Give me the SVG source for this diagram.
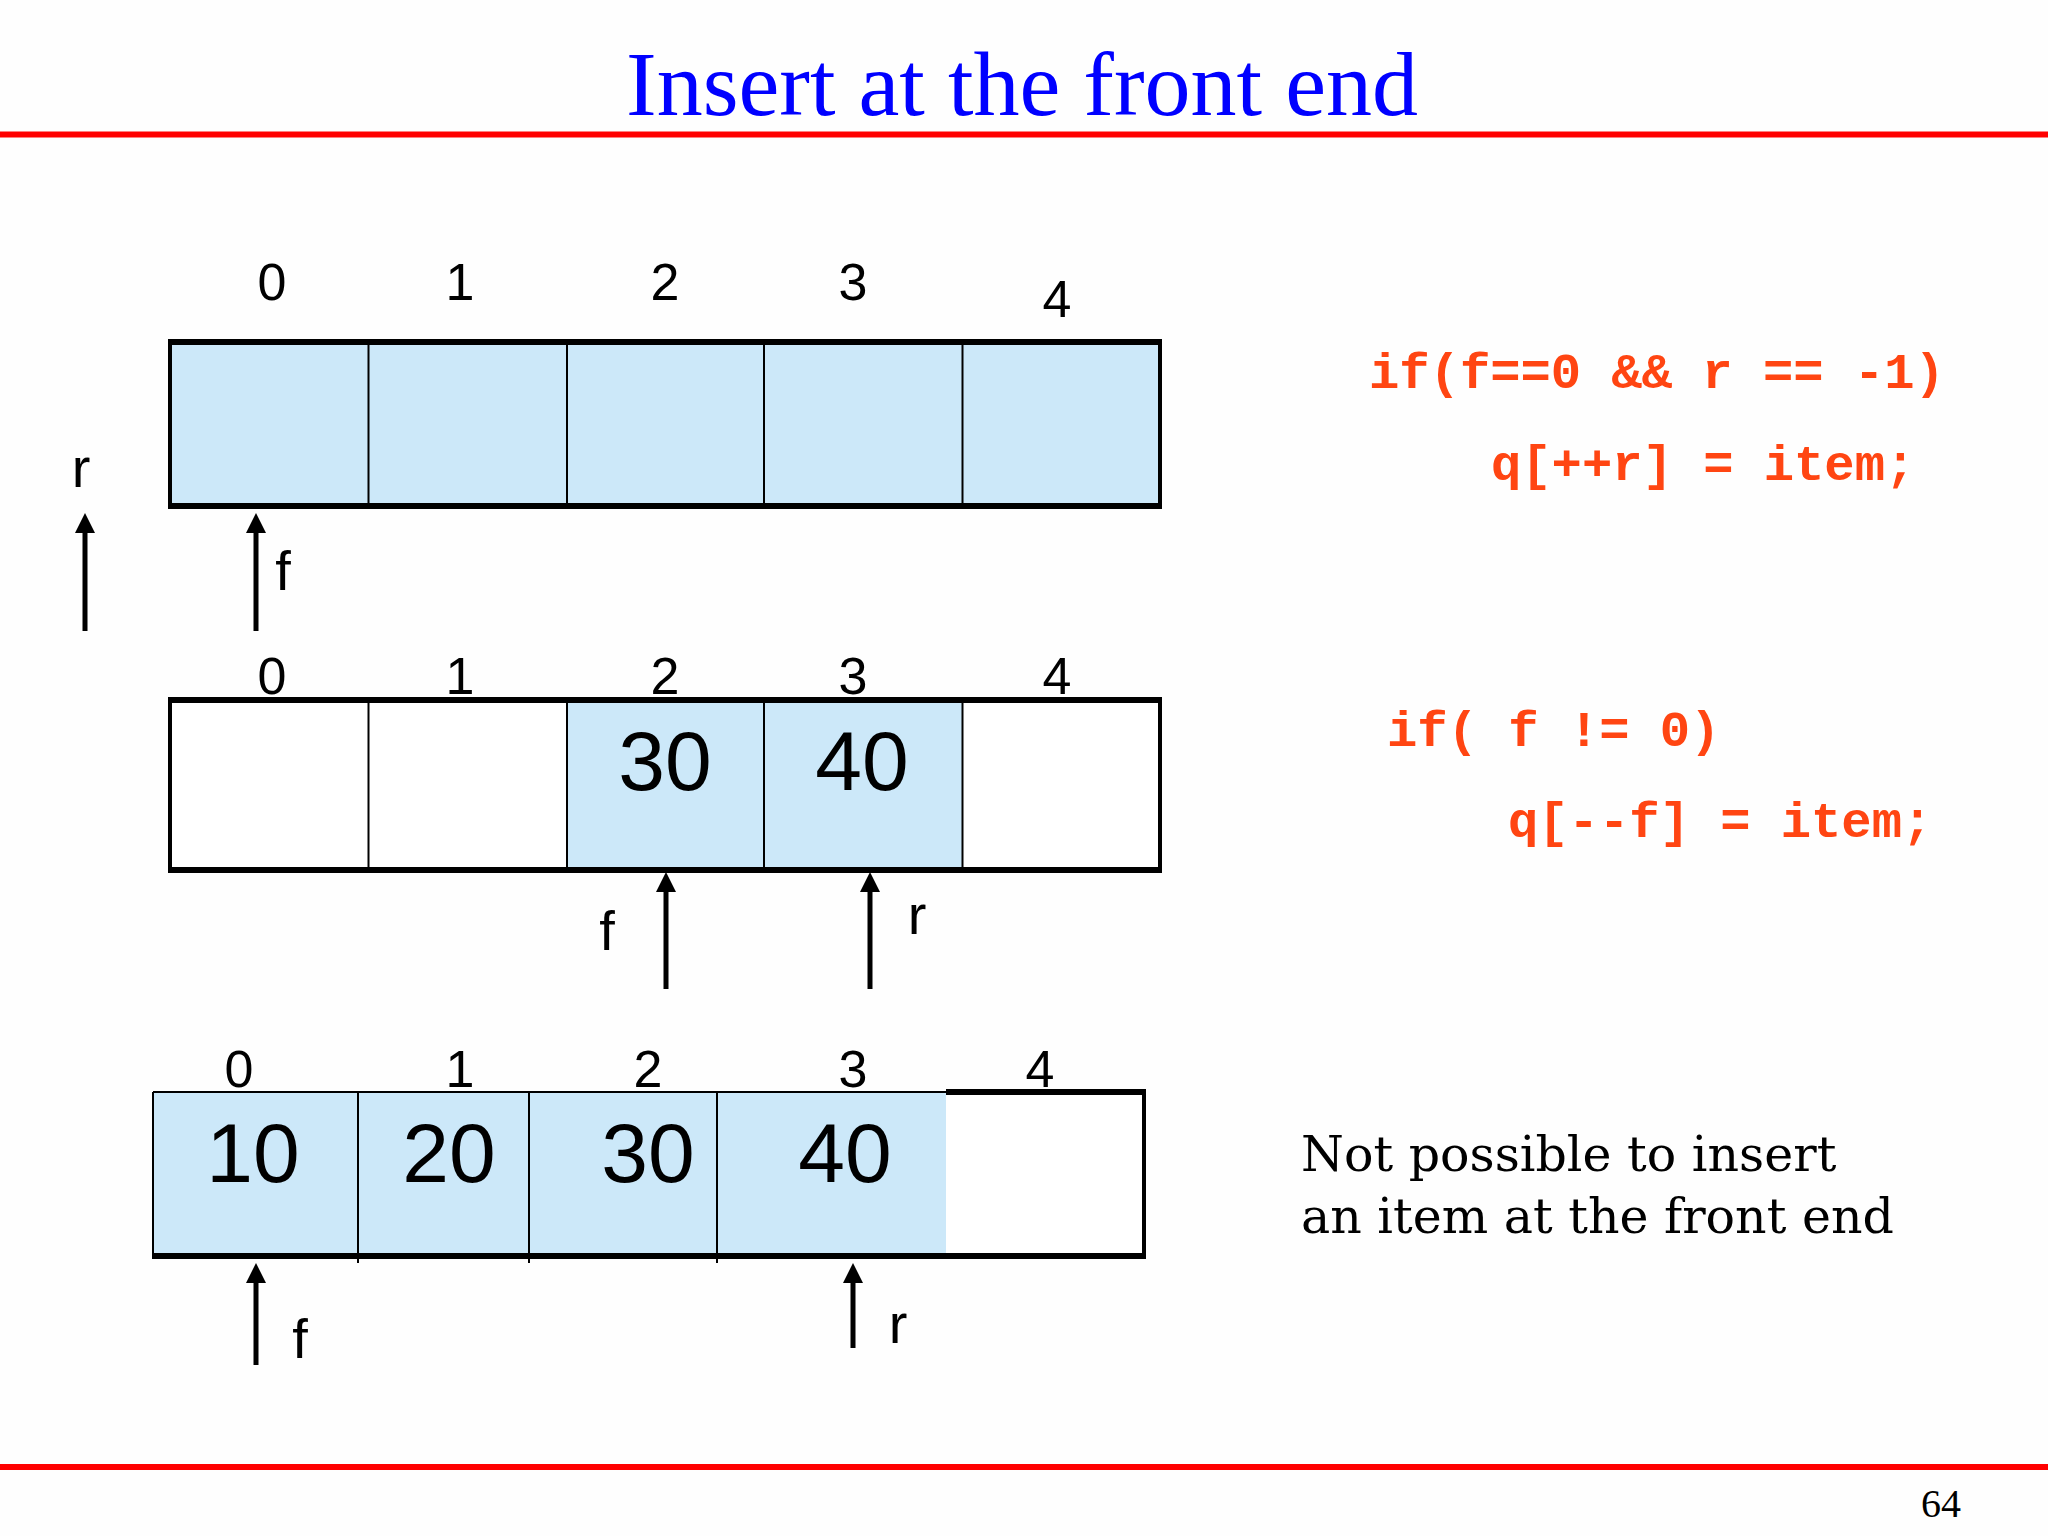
<svg xmlns="http://www.w3.org/2000/svg" width="2048" height="1536" viewBox="0 0 2048 1536">
<defs>
<marker id="ah" markerUnits="userSpaceOnUse" markerWidth="20" markerHeight="20" viewBox="0 0 20 20" refX="2" refY="10" orient="auto">
<path d="M0,0 L20,10 L0,20 z" fill="#000"/>
</marker>
<style>
.bg{fill:#fefefe}
.redline{stroke:#ff0000;stroke-width:6}
.title{font-family:"Liberation Serif","Times New Roman",serif;font-size:92px;fill:#0000ff;text-anchor:middle}
.pg{font-family:"Liberation Serif","Times New Roman",serif;font-size:40px;fill:#000;text-anchor:middle}
.cell{fill:#cce8f9}
.white{fill:#ffffff}
.thick{stroke:#000;stroke-width:6;fill:none}
.side{stroke:#000;stroke-width:4;fill:none}
.div{stroke:#000;stroke-width:2;fill:none}
.idx{font-family:"Liberation Sans",Arial,sans-serif;font-size:52px;fill:#000;text-anchor:middle}
.num{font-family:"Liberation Sans",Arial,sans-serif;font-size:84px;fill:#000;text-anchor:middle}
.lbl{font-family:"Liberation Sans",Arial,sans-serif;font-size:56px;fill:#000;text-anchor:middle}
.arrow{stroke:#000;stroke-width:5;fill:none;marker-end:url(#ah)}
.code{font-family:"Liberation Mono","Courier New",monospace;font-weight:bold;font-size:50.5px;fill:#ff4512;white-space:pre}
.note{font-family:"DejaVu Serif","Liberation Serif",serif;font-size:49px;fill:#000}
</style>
</defs>
<rect class="bg" x="0" y="0" width="2048" height="1536"/>

<g id="header">
<text class="title" x="1022" y="115">Insert at the front end</text>
<line class="redline" x1="0" y1="134.5" x2="2048" y2="134.5"/>
</g>

<g id="array1">
<rect class="cell" x="170" y="342" width="990" height="164"/>
<line class="div" x1="368.5" y1="342" x2="368.5" y2="506"/>
<line class="div" x1="567" y1="342" x2="567" y2="506"/>
<line class="div" x1="764" y1="342" x2="764" y2="506"/>
<line class="div" x1="962.5" y1="342" x2="962.5" y2="506"/>
<line class="side" x1="170" y1="342" x2="170" y2="506"/>
<line class="side" x1="1160" y1="342" x2="1160" y2="506"/>
<line class="thick" x1="168" y1="342" x2="1162" y2="342"/>
<line class="thick" x1="168" y1="506" x2="1162" y2="506"/>
<text class="idx" x="272" y="300">0</text>
<text class="idx" x="460" y="300">1</text>
<text class="idx" x="665" y="300">2</text>
<text class="idx" x="853" y="300">3</text>
<text class="idx" x="1057" y="317">4</text>
</g>

<g id="array2">
<rect class="white" x="170" y="700" width="990" height="170"/>
<rect class="cell" x="567" y="700" width="396" height="170"/>
<line class="div" x1="368.5" y1="700" x2="368.5" y2="870"/>
<line class="div" x1="567" y1="700" x2="567" y2="870"/>
<line class="div" x1="764" y1="700" x2="764" y2="870"/>
<line class="div" x1="962.5" y1="700" x2="962.5" y2="870"/>
<line class="side" x1="170" y1="700" x2="170" y2="870"/>
<line class="side" x1="1160" y1="700" x2="1160" y2="870"/>
<line class="thick" x1="168" y1="700" x2="1162" y2="700"/>
<line class="thick" x1="168" y1="870" x2="1162" y2="870"/>
<text class="idx" x="272" y="694">0</text>
<text class="idx" x="460" y="694">1</text>
<text class="idx" x="665" y="694">2</text>
<text class="idx" x="853" y="694">3</text>
<text class="idx" x="1057" y="694">4</text>
<text class="num" x="665" y="790">30</text>
<text class="num" x="862" y="790">40</text>
</g>

<g id="array3">
<rect class="cell" x="153" y="1092" width="793" height="165"/>
<rect class="white" x="946" y="1092" width="198" height="165"/>
<line class="div" x1="358" y1="1092" x2="358" y2="1263"/>
<line class="div" x1="529" y1="1092" x2="529" y2="1263"/>
<line class="div" x1="717" y1="1092" x2="717" y2="1263"/>
<line class="div" x1="153" y1="1092" x2="153" y2="1257"/>
<line class="div" x1="153" y1="1092" x2="946" y2="1092"/>
<line class="side" x1="1144" y1="1092" x2="1144" y2="1257"/>
<line class="thick" x1="946" y1="1092" x2="1146" y2="1092"/>
<line class="thick" x1="152" y1="1256" x2="1146" y2="1256"/>
<text class="idx" x="239" y="1087">0</text>
<text class="idx" x="460" y="1087">1</text>
<text class="idx" x="648" y="1087">2</text>
<text class="idx" x="853" y="1087">3</text>
<text class="idx" x="1040" y="1087">4</text>
<text class="num" x="253" y="1182">10</text>
<text class="num" x="449" y="1182">20</text>
<text class="num" x="648" y="1182">30</text>
<text class="num" x="845" y="1182">40</text>
</g>

<g id="pointers">
<line class="arrow" x1="85" y1="631" x2="85" y2="531"/>
<text class="lbl" x="81" y="487">r</text>
<line class="arrow" x1="256" y1="631" x2="256" y2="531"/>
<text class="lbl" x="283" y="590">f</text>
<line class="arrow" x1="666" y1="989" x2="666" y2="890"/>
<text class="lbl" x="607" y="950">f</text>
<line class="arrow" x1="870" y1="989" x2="870" y2="890"/>
<text class="lbl" x="917" y="934">r</text>
<line class="arrow" x1="256" y1="1365" x2="256" y2="1281"/>
<text class="lbl" x="300" y="1358">f</text>
<line class="arrow" x1="853" y1="1348" x2="853" y2="1281"/>
<text class="lbl" x="898" y="1343">r</text>
</g>

<g id="code">
<text class="code" x="1369" y="388">if(f==0 &amp;&amp; r == -1)</text>
<text class="code" x="1491" y="480">q[++r] = item;</text>
<text class="code" x="1387" y="746">if( f != 0)</text>
<text class="code" x="1508" y="837">q[--f] = item;</text>
</g>

<g id="note">
<text class="note" x="1301" y="1171">Not possible to insert</text>
<text class="note" x="1301" y="1233">an item at the front end</text>
</g>

<g id="footer">
<line class="redline" x1="0" y1="1467" x2="2048" y2="1467"/>
<text class="pg" x="1941" y="1517">64</text>
</g>
</svg>
